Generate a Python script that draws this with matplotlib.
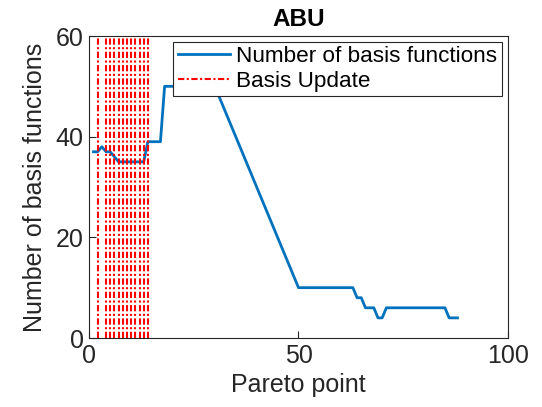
import matplotlib
matplotlib.use('Agg')
import matplotlib.pyplot as plt

plt.rcParams['font.family'] = ['Liberation Sans', 'DejaVu Sans']

# pareto points and number of basis functions
pareto = list(range(1, 89))
n_basis = [37, 37, 38, 37, 37, 36, 35, 35, 35, 35, 35, 35, 35, 39, 39, 39, 39,
           50, 50, 50, 50, 50, 50, 50, 50, 50, 50, 50, 50, 50,
           48, 46, 44, 42, 40, 38, 36, 34, 32, 30, 28, 26, 24, 22, 20, 18, 16, 14, 12, 10,
           10, 10, 10, 10, 10, 10, 10, 10, 10, 10, 10, 10, 10,
           8, 8, 6, 6, 6, 4, 4,
           6, 6, 6, 6, 6, 6, 6, 6, 6, 6, 6, 6, 6, 6, 6,
           4, 4, 4]
# points where the basis was updated
updates = [2, 4, 5, 6, 7, 8, 9, 10, 11, 12, 13, 14]

fig = plt.figure(figsize=(5.42, 4.07), dpi=100)
ax = fig.add_axes([89.3 / 542, 1 - 338 / 407, (507.7 - 89.3) / 542, (338 - 36) / 407])

ax.plot(pareto, n_basis, color='#0072BD', lw=2, label='Number of basis functions')
for i, u in enumerate(updates):
    ax.axvline(u, color='red', ls=(0, (3, 1.2, 1, 1.2)), lw=1.5, zorder=3,
               label='Basis Update' if i == 0 else None)

ax.set_xlim(0, 100)
ax.set_ylim(0, 60)
ax.set_xticks([0, 50, 100])
ax.set_yticks([0, 20, 40, 60])
ax.tick_params(direction='in', labelsize=18, colors='#262626', top=False, right=False,
               length=5, width=0.8, pad=4)
for s in ax.spines.values():
    s.set_color('#262626')
    s.set_linewidth(0.8)
ax.set_xlabel('Pareto point', fontsize=18, color='#262626', labelpad=4)
ax.set_ylabel('Number of basis functions', fontsize=18, color='#262626', labelpad=6)
ax.set_title('ABU', fontsize=17.5, fontweight='bold', pad=7)

leg = ax.legend(loc='upper right', fontsize=16.2, fancybox=False, framealpha=1,
                edgecolor='#262626', borderpad=0.2, handlelength=2.3, handletextpad=0.3,
                labelspacing=0.15, borderaxespad=0.25)
leg.get_frame().set_linewidth(0.8)

fig.savefig('out.png', dpi=100)
